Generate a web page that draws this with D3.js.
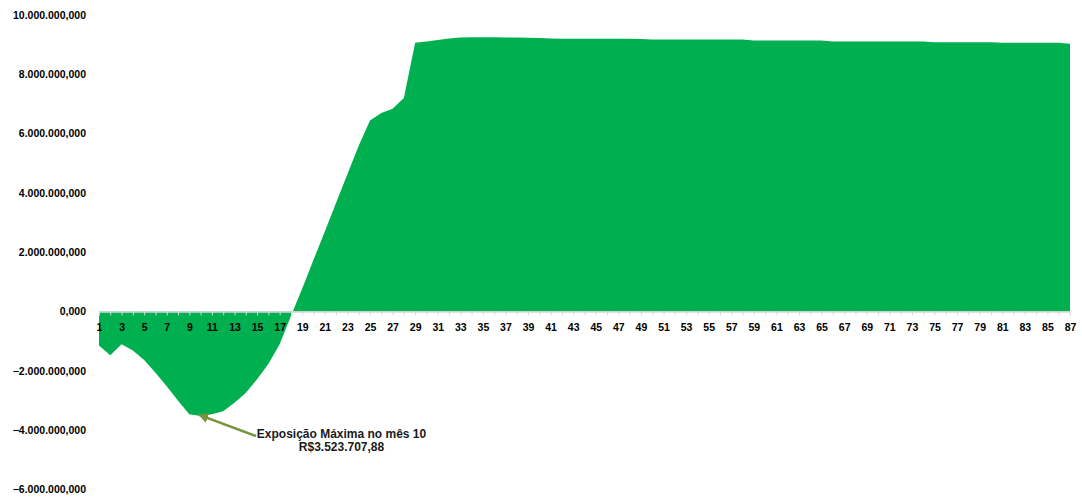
<!DOCTYPE html>
<html>
<head>
<meta charset="utf-8">
<script src="https://cdn.jsdelivr.net/npm/d3@7"></script>
<style>
  html, body { margin: 0; padding: 0; background: #fff; }
  svg { display: block; }
  text { font-family: "Liberation Sans", Arial, sans-serif; font-weight: bold; }
</style>
</head>
<body>
<svg id="chart" width="1082" height="500"></svg>
<script>
// ---- data ----
const months = d3.range(1, 88); // categories 1..87
const values = [
  -1150000, -1480000, -1110000, -1320000, -1640000, -2070000, -2520000, -3010000, -3470000, -3523707.88,
  -3470000, -3370000, -3080000, -2750000, -2290000, -1770000, -1110000, -150000, 770000, 1740000,
  2700000, 3670000, 4630000, 5590000, 6440000, 6690000, 6840000, 7200000, 9060000, 9110000,
  9160000, 9210000, 9240000, 9250000, 9250000, 9250000, 9240000, 9240000, 9230000, 9220000,
  9210000, 9200000, 9200000, 9200000, 9200000, 9200000, 9200000, 9200000, 9190000, 9170000,
  9170000, 9170000, 9170000, 9170000, 9170000, 9170000, 9170000, 9170000, 9140000, 9140000,
  9140000, 9140000, 9140000, 9140000, 9140000, 9110000, 9110000, 9110000, 9110000, 9110000,
  9110000, 9110000, 9110000, 9110000, 9080000, 9080000, 9080000, 9080000, 9080000, 9080000,
  9060000, 9060000, 9060000, 9060000, 9060000, 9060000, 9030000
];
const yTicks = [10000000, 8000000, 6000000, 4000000, 2000000, 0, -2000000, -4000000, -6000000];
const annotationLines = ["Exposição Máxima no mês 10", "R$3.523.707,88"];
const annotationMonth = 10;

// ---- setup ----
const svg = d3.select("#chart");
const x = d3.scalePoint().domain(months).range([99, 1070]);
const y = d3.scaleLinear().domain([-6000000, 10000000]).range([489.3, 15]);

const ptBR = d3.formatLocale({ decimal: ",", thousands: ".", grouping: [3], currency: ["R$", ""] });
const fmt = ptBR.format(",.3f");

const data = months.map((m, i) => ({ m, v: values[i] }));

// area
const area = d3.area()
  .x(d => x(d.m))
  .y0(y(0))
  .y1(d => y(d.v))
  .curve(d3.curveLinear);

svg.append("path")
  .datum(data)
  .attr("d", area)
  .attr("fill", "#00b050");

// y axis labels (no line)
const yAxis = d3.axisLeft(y).tickValues(yTicks).tickFormat(fmt).tickSize(0).tickPadding(0);
const gy = svg.append("g").attr("transform", "translate(86,0)").call(yAxis);
gy.select(".domain").remove();
gy.selectAll("text").attr("font-size", 10.5).attr("fill", "#000")
  .style("font-family", "'Liberation Sans', Arial, sans-serif").style("font-weight", "bold");

// x axis at zero
const xAxis = d3.axisBottom(x).tickSize(4).tickSizeOuter(0).tickPadding(8)
  .tickFormat(d => (d % 2 === 1 ? d : ""));
const gx = svg.append("g").attr("transform", `translate(0,${y(0)})`).call(xAxis);
gx.select(".domain").attr("stroke", "#d9d9d9").attr("stroke-width", 1.5);
gx.selectAll(".tick line").attr("stroke", "#d9d9d9").attr("stroke-width", 1);
gx.selectAll("text").attr("font-size", 10.5).attr("fill", "#000")
  .style("font-family", "'Liberation Sans', Arial, sans-serif").style("font-weight", "bold");

// annotation
const defs = svg.append("defs");
defs.append("marker")
  .attr("id", "arrow")
  .attr("viewBox", "0 0 10 10")
  .attr("refX", 9).attr("refY", 5)
  .attr("markerWidth", 4).attr("markerHeight", 4)
  .attr("orient", "auto")
  .append("path").attr("d", "M0,0 L10,5 L0,10 Z").attr("fill", "#77933c");

const minVal = values[annotationMonth - 1];
const tipX = x(annotationMonth) - 1.5, tipY = y(minVal) - 1;
svg.append("line")
  .attr("x1", 256).attr("y1", 436)
  .attr("x2", tipX).attr("y2", tipY)
  .attr("stroke", "#77933c").attr("stroke-width", 2.5)
  .attr("marker-end", "url(#arrow)");

const ann = svg.append("text")
  .attr("x", 341.5).attr("y", 438)
  .attr("text-anchor", "middle")
  .attr("font-size", 12).attr("fill", "#1a1a1a");
ann.append("tspan").attr("x", 341.5).attr("dy", 0).text(annotationLines[0]);
ann.append("tspan").attr("x", 341.5).attr("dy", 13).text(annotationLines[1]);
</script>
</body>
</html>
